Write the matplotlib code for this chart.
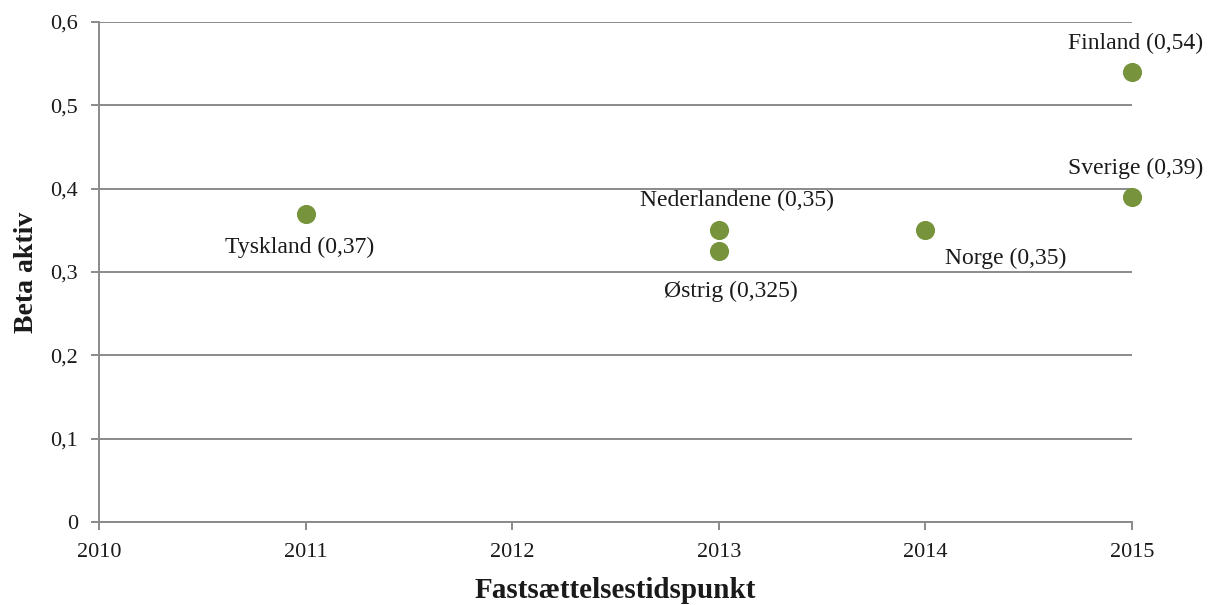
import matplotlib
matplotlib.use("Agg")
import matplotlib.pyplot as plt
from matplotlib.ticker import FuncFormatter

# data
countries = ["Tyskland", "Nederlandene", "Østrig", "Norge", "Sverige", "Finland"]
years = [2011, 2013, 2013, 2014, 2015, 2015]
betas = [0.37, 0.35, 0.325, 0.35, 0.39, 0.54]
value_labels = ["0,37", "0,35", "0,325", "0,35", "0,39", "0,54"]

# label offsets from the point, in pixels (x right, y up)
label_offsets = [(-6, -34), (18, 30), (12, -40), (80, -28), (4, 29), (4, 29)]

plt.rcParams["font.family"] = ["Liberation Serif", "DejaVu Serif"]

grid_color = "#8a8a8a"
dot_color = "#77933C"
text_color = "#1a1a1a"

fig = plt.figure(figsize=(12.16, 6.05), dpi=100)
ax = fig.add_axes([0.0814, 0.1372, 0.8495, 0.8264])

ax.scatter(years, betas, s=190, color=dot_color, zorder=3, linewidths=0, clip_on=False)

for name, x, y, v, off in zip(countries, years, betas, value_labels, label_offsets):
    ax.annotate(f"{name} ({v})", (x, y), xytext=off, textcoords="offset pixels",
                ha="center", va="center", fontsize=17, color=text_color,
                annotation_clip=False)

ax.set_xlim(2010, 2015)
ax.set_ylim(0, 0.6)
ax.set_xticks(range(2010, 2016))
ax.set_yticks([0, 0.1, 0.2, 0.3, 0.4, 0.5, 0.6])
ax.yaxis.set_major_formatter(FuncFormatter(lambda v, _: "0" if v == 0 else f"{v:.1f}".replace(".", ",")))

ax.grid(True, axis="y", color=grid_color, linewidth=1.4)
ax.set_axisbelow(True)
for side in ("top", "right"):
    ax.spines[side].set_visible(False)
for side in ("left", "bottom"):
    ax.spines[side].set_color(grid_color)
    ax.spines[side].set_linewidth(1.4)
ax.tick_params(colors=grid_color, labelcolor=text_color, labelsize=16, length=6, width=1.4)
ax.tick_params(axis="x", pad=9)
ax.tick_params(axis="y", pad=9)

ax.set_xlabel("Fastsættelsestidspunkt", fontsize=21, fontweight="bold", color=text_color, labelpad=11)
ax.set_ylabel("Beta aktiv", fontsize=20, fontweight="bold", color=text_color, labelpad=8)

fig.savefig("out.png", dpi=100, facecolor="white")
